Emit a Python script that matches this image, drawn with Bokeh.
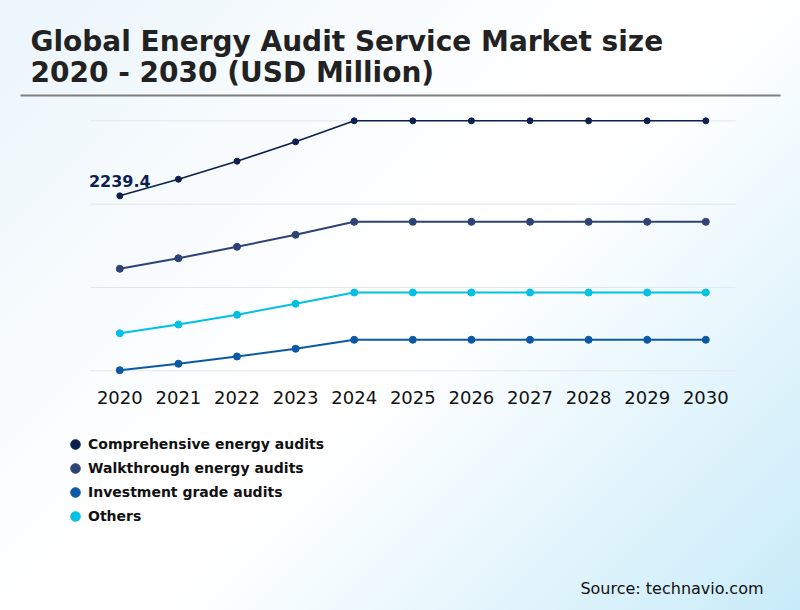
from bokeh.plotting import figure
from bokeh.layouts import column
from bokeh.models import (ColumnDataSource, FixedTicker, Legend, LegendItem, Label,
                          GlobalInlineStyleSheet)
from bokeh.core.properties import value
from bokeh.embed import file_html
from bokeh.resources import INLINE

# ---------------- data ----------------
years = [2020, 2021, 2022, 2023, 2024, 2025, 2026, 2027, 2028, 2029, 2030]
comprehensive = [2239.4, 2452, 2683, 2931, 3200, 3200, 3200, 3200, 3200, 3200, 3200]
walkthrough = [1306, 1441, 1587, 1741, 1907, 1907, 1907, 1907, 1907, 1907, 1907]
investment = [8, 90, 183, 282, 397, 397, 397, 397, 397, 397, 397]
others = [481, 593, 717, 858, 1002, 1002, 1002, 1002, 1002, 1002, 1002]
series_names = ["Comprehensive energy audits", "Walkthrough energy audits",
                "Investment grade audits", "Others"]
y_ticks = [0, 3200 / 3, 6400 / 3, 3200]
title_lines = ["Global Energy Audit Service Market size", "2020 - 2030 (USD Million)"]
source_text = "Source: technavio.com"

colors = ["#0d1f4d", "#2f4275", "#0b59a6", "#00c1e3"]

# ---------------- layout helpers (page pixel -> data) ----------------
W, H = 800, 610
H1 = 420            # height of the chart part
FRAME_BOTTOM = 385  # page px
X_PX_2020, X_PX_STEP = 119.3, 58.6
Y_PX_ZERO, Y_PX_TOP = 370.3, 120.3
u = y_ticks[-1] / (Y_PX_ZERO - Y_PX_TOP)


def px2x(px):
    return years[0] + (px - X_PX_2020) / X_PX_STEP


def px2y(py):
    return (Y_PX_ZERO - py) * u


p = figure(width=W, height=H1, x_range=(px2x(0), px2x(W)),
           y_range=(px2y(FRAME_BOTTOM), px2y(0)),
           output_backend="svg", toolbar_location=None, title=None,
           y_axis_location=None, x_axis_location="below",
           min_border_left=0, min_border_right=0, min_border_top=0,
           min_border_bottom=H1 - FRAME_BOTTOM)
p.background_fill_alpha = 0
p.border_fill_alpha = 0
p.outline_line_color = None
p.xgrid.visible = False
p.ygrid.visible = False
p.stylesheets = [GlobalInlineStyleSheet(css=(
    "html{height:100%;background:linear-gradient(135deg,#ebf5fb 0%,#ffffff 45%,"
    "#ffffff 55%,#c8ebf9 100%) fixed;}body{background:transparent;}"))]

# grid lines (bounded like the original)
p.segment(x0=px2x(90), x1=px2x(735), y0=y_ticks, y1=y_ticks,
          line_color="#e4e6e8", line_width=1)

# title + separator
p.text(x=[px2x(30)] * 2, y=[px2y(41), px2y(72)], text=title_lines,
       text_font=value("DejaVu Sans"), text_font_style="bold",
       text_font_size="28px", text_color="#222222", text_baseline="middle",
       text_align="left")
p.line(x=[px2x(20), px2x(780)], y=[px2y(95)] * 2, line_color="#7f7f7f", line_width=2)

# series
all_series = [comprehensive, walkthrough, investment, others]
widths = [1.6, 2, 2, 2]
sizes = [6, 7, 7, 7]
for name, vals, c, lw, sz in zip(series_names, all_series, colors, widths, sizes):
    src = ColumnDataSource(dict(x=years, y=vals))
    p.line("x", "y", source=src, line_color=c, line_width=lw)
    p.scatter("x", "y", source=src, size=sz, fill_color=c, line_color=c)

# data label for the first point
p.text(x=[years[0]], y=[comprehensive[0]], text=[f"{comprehensive[0]:.1f}"],
       y_offset=-15, text_align="center", text_baseline="middle",
       text_font=value("DejaVu Sans"), text_font_style="bold",
       text_font_size="16px", text_color=colors[0])

# x axis
ax = p.xaxis[0]
ax.ticker = FixedTicker(ticks=years)
ax.axis_line_color = None
ax.major_tick_line_color = None
ax.minor_tick_line_color = None
ax.major_tick_out = 0
ax.major_label_standoff = 5
ax.major_label_text_font = "DejaVu Sans"
ax.major_label_text_font_size = "18px"
ax.major_label_text_color = "#111111"

# ---------------- legend + source part ----------------
H2 = H - H1
q = figure(width=W, height=H2, x_range=(0, W), y_range=(H2, 0),
           output_backend="svg", toolbar_location=None, title=None,
           x_axis_location=None, y_axis_location=None, min_border=0)
q.background_fill_alpha = 0
q.border_fill_alpha = 0
q.outline_line_color = None
q.xgrid.visible = False
q.ygrid.visible = False

# legend key renderers: one point per series kept outside the visible range
key_src = ColumnDataSource(dict(x=[-1000] * len(colors), y=[-1000] * len(colors),
                                color=colors))
key = q.scatter("x", "y", source=key_src, size=9, fill_color="color", line_color="color")
items = [LegendItem(label=name, renderers=[key], index=i)
         for i, name in enumerate(series_names)]

LEG_TOP = 432 - H1
legend = Legend(items=items, location=(63, H2 - LEG_TOP - 96),
                orientation="vertical", glyph_width=24, glyph_height=24,
                label_height=24, spacing=0, padding=0, margin=0, label_standoff=1,
                label_text_font="DejaVu Sans", label_text_font_style="bold",
                label_text_font_size="14px", label_text_color="#111111",
                background_fill_alpha=0, border_line_color=None)
q.add_layout(legend)

q.add_layout(Label(x=763, y=588 - H1, text=source_text, text_align="right",
                   text_baseline="middle", text_font="DejaVu Sans",
                   text_font_size="16px", text_color="#111111"))

layout = column(p, q, spacing=0)
open("out.html", "w").write(file_html(layout, INLINE))
